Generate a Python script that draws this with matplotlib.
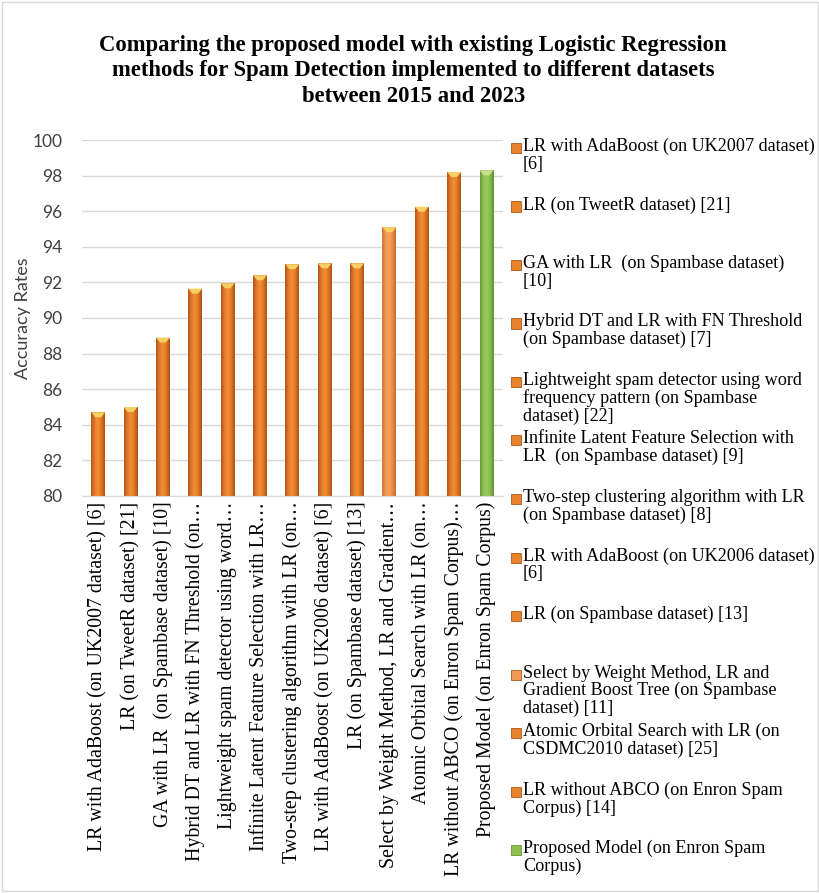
import matplotlib.pyplot as plt
import numpy as np
from matplotlib.colors import LinearSegmentedColormap
from matplotlib.patches import Rectangle, Polygon

# accuracy (%) of each Logistic Regression based spam detector
tick_labels = [
    "LR with AdaBoost (on UK2007 dataset) [6]",
    "LR (on TweetR dataset) [21]",
    "GA with LR  (on Spambase dataset) [10]",
    "Hybrid DT and LR with FN Threshold (on\u2026",
    "Lightweight spam detector using word\u2026",
    "Infinite Latent Feature Selection with LR\u2026",
    "Two-step clustering algorithm with LR (on\u2026",
    "LR with AdaBoost (on UK2006 dataset) [6]",
    "LR (on Spambase dataset) [13]",
    "Select by Weight Method, LR and Gradient\u2026",
    "Atomic Orbital Search with LR (on\u2026",
    "LR without ABCO (on Enron Spam Corpus)\u2026",
    "Proposed Model (on Enron Spam Corpus)",
]
legend_labels = [
    "LR with AdaBoost (on UK2007 dataset)\n[6]",
    "LR (on TweetR dataset) [21]",
    "GA with LR  (on Spambase dataset)\n[10]",
    "Hybrid DT and LR with FN Threshold\n(on Spambase dataset) [7]",
    "Lightweight spam detector using word\nfrequency pattern (on Spambase\ndataset) [22]",
    "Infinite Latent Feature Selection with\nLR  (on Spambase dataset) [9]",
    "Two-step clustering algorithm with LR\n(on Spambase dataset) [8]",
    "LR with AdaBoost (on UK2006 dataset)\n[6]",
    "LR (on Spambase dataset) [13]",
    "Select by Weight Method, LR and\nGradient Boost Tree (on Spambase\ndataset) [11]",
    "Atomic Orbital Search with LR (on\nCSDMC2010 dataset) [25]",
    "LR without ABCO (on Enron Spam\nCorpus) [14]",
    "Proposed Model (on Enron Spam\nCorpus)",
]
accuracy = [84.7, 85.0, 88.9, 91.65, 91.95, 92.4, 93.02, 93.07, 93.07,
            95.1, 96.25, 98.2, 98.3]
bar_style = ["orange"] * 9 + ["light"] + ["orange"] * 2 + ["green"]

shades = {
    "orange": ["#B4561A", "#E27A28", "#F39033", "#DE7625", "#AE5216"],
    "light": ["#D47232", "#F2964E", "#F8A35E", "#EC8C45", "#C9692B"],
    "green": ["#6A9838", "#8BC153", "#9ACB5E", "#84B84B", "#638F34"],
}
solid = {"orange": "#E8822C", "light": "#F39A52", "green": "#8CC152"}
cmaps = {k: LinearSegmentedColormap.from_list(k, v) for k, v in shades.items()}

serif = "Liberation Serif"
sans = "Lato"

fig = plt.figure(figsize=(8.2, 8.93), dpi=100)
ax = fig.add_axes([0.1, 0.4446, 0.513, 0.3986])

x = np.arange(len(accuracy))
width = 0.43
bars = ax.bar(x, accuracy, width=width, color="none", zorder=2)

grad = np.linspace(0, 1, 64).reshape(1, -1)
for xi, val, style, b in zip(x, accuracy, bar_style, bars):
    im = ax.imshow(grad, cmap=cmaps[style], aspect="auto",
                   extent=(xi - width / 2, xi + width / 2, 80, val), zorder=2)
    im.set_clip_path(b)
    cap = Polygon([(xi - width / 2, val), (xi + width / 2, val),
                   (xi + width * 0.2, val - 0.28), (xi - width * 0.2, val - 0.28)],
                  closed=True, facecolor="#F8CF62" if style != "green" else "#C9DE8E",
                  edgecolor="none", zorder=3)
    ax.add_patch(cap)

ax.set_xlim(-0.5, len(accuracy) - 0.5)
ax.set_ylim(80, 100)
ax.set_yticks(np.arange(80, 101, 2))
ax.set_yticklabels([str(v) for v in range(80, 101, 2)], fontfamily=sans,
                   fontsize=12.5, color="#404040")
ax.set_xticks(x)
ax.set_xticklabels(tick_labels, rotation=90, fontfamily=serif, fontsize=14.3,
                   ha="center", va="top")
ax.tick_params(axis="y", length=0, pad=14)
ax.tick_params(axis="x", length=0, pad=4)
ax.yaxis.grid(True, color="#D9D9D9", linewidth=1)
ax.set_axisbelow(True)
for side in ["top", "right", "left"]:
    ax.spines[side].set_visible(False)
ax.spines["bottom"].set_color("#D9D9D9")
ax.set_ylabel("Accuracy Rates", fontfamily=sans, fontsize=13, color="#404040",
              labelpad=1)

fig.text(0.504, 0.9205,
         "Comparing the proposed model with existing Logistic Regression\n"
         "methods for Spam Detection implemented to different datasets\n"
         "between 2015 and 2023",
         ha="center", va="center", fontfamily=serif, fontsize=16.3,
         fontweight="bold", linespacing=1.26)

# legend entries stacked at a fixed pitch, as in the spreadsheet layout
top_px, pitch_px = 148, 58.5
for i, (label, style) in enumerate(zip(legend_labels, bar_style)):
    y = 1 - (top_px + i * pitch_px) / 893
    fig.patches.append(Rectangle((511 / 820, y - 5 / 893), 10 / 820, 10 / 893,
                                 transform=fig.transFigure, facecolor=solid[style],
                                 edgecolor="#A9561C" if style != "green" else "#6A9838",
                                 linewidth=0.6))
    fig.text(523 / 820, y + 10 / 893, label, ha="left", va="top",
             fontfamily=serif, fontsize=13.1, linespacing=1.03)

fig.patches.append(Rectangle((0.002, 0.002), 0.996, 0.996, transform=fig.transFigure,
                             facecolor="none", edgecolor="#D9D9D9", linewidth=1))

fig.savefig("out.png", dpi=100)
